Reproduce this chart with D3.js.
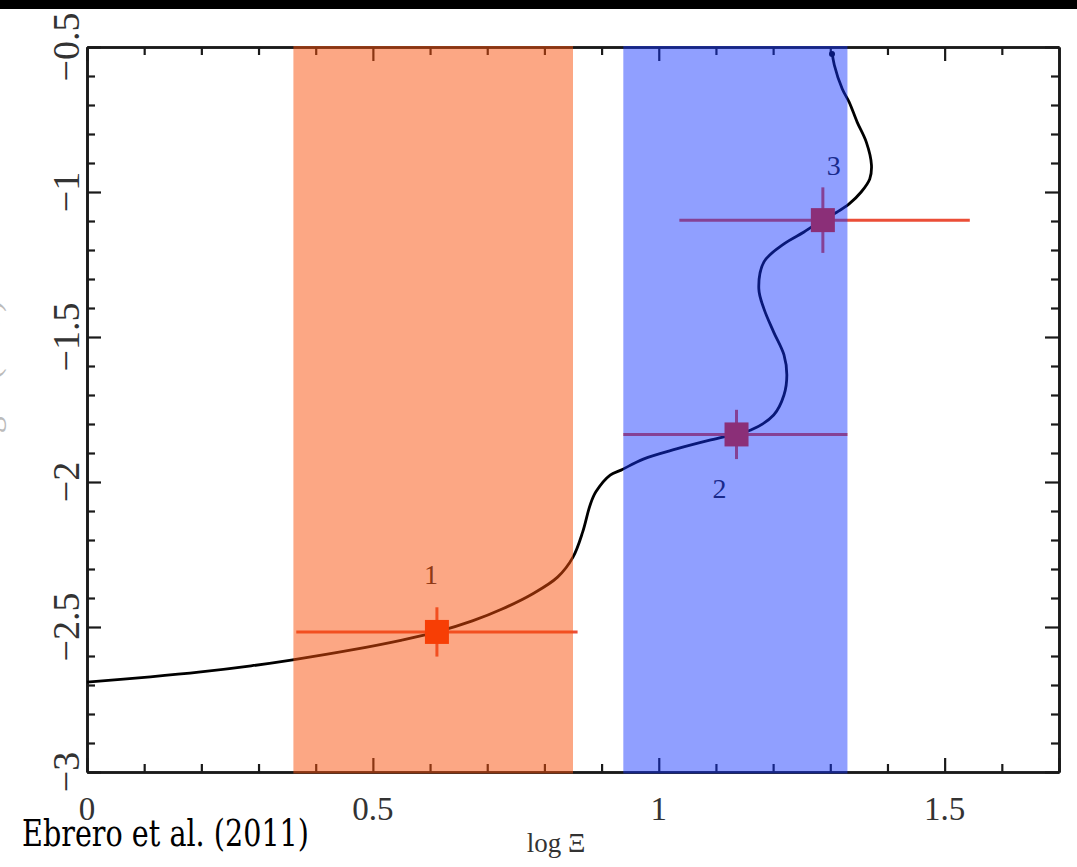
<!DOCTYPE html>
<html><head><meta charset="utf-8">
<script src="https://cdn.jsdelivr.net/npm/d3@7"></script>
<style>html,body{margin:0;padding:0;background:#fff;}svg{display:block;}</style>
</head><body>
<script>
// ---- data ----
const curveX = [0.000,0.111,0.199,0.287,0.357,0.463,0.551,0.612,0.674,0.726,0.779,0.823,0.850,0.867,0.880,0.890,0.915,0.934,0.973,1.031,1.091,1.136,1.161,1.201,1.219,1.224,1.219,1.201,1.184,1.175,1.184,1.219,1.254,1.286,1.312,1.333,1.354,1.369,1.372,1.363,1.347,1.333,1.321,1.307,1.303];
const curveY = [-2.690,-2.672,-2.655,-2.634,-2.614,-2.579,-2.545,-2.517,-2.479,-2.438,-2.386,-2.328,-2.259,-2.172,-2.079,-2.034,-1.976,-1.959,-1.921,-1.886,-1.855,-1.834,-1.821,-1.769,-1.700,-1.631,-1.562,-1.483,-1.403,-1.334,-1.241,-1.179,-1.138,-1.097,-1.069,-1.041,-1.000,-0.955,-0.907,-0.828,-0.759,-0.690,-0.645,-0.562,-0.517];
const pointLabels = ["1","2","3"];
const pointX  = [0.612, 1.136, 1.287];
const pointY  = [-2.517, -1.836, -1.097];
const xLow    = [0.366, 0.938, 1.036];
const xHigh   = [0.858, 1.330, 1.544];
const yErr    = [0.085, 0.085, 0.113];
const bandLow  = [0.361, 0.938];
const bandHigh = [0.850, 1.330];
const bandColors = ["rgb(250,80,10)", "rgb(20,50,255)"];
const xMajorTicks = [0, 0.5, 1, 1.5];
const xTickLabels = ["0", "0.5", "1", "1.5"];
const yMajorTicks = [-0.5, -1, -1.5, -2, -2.5, -3];
const yTickLabels = ["\u22120.5", "\u22121", "\u22121.5", "\u22122", "\u22122.5", "\u22123"];
const xTitle = "log \u039E";
const yTitle = "log T (keV)";
const credit = "Ebrero et al. (2011)";

// ---- layout ----
const W = 1077, H = 867;
const L = 87, R = 1059, T = 47, B = 772;
const svg = d3.select("body").append("svg").attr("width", W).attr("height", H);
svg.append("rect").attr("x",0).attr("y",0).attr("width",W).attr("height",9).attr("fill","#000");

const x = d3.scaleLinear().domain([0, 1.7]).range([L, R]);
const y = d3.scaleLinear().domain([-3, -0.5]).range([B, T]);

const axisColor = "#1a1a1a";
const g = svg.append("g");

const xMinor = d3.range(0, 17).map(i => i/10).filter(v => !xMajorTicks.some(m => Math.abs(m-v)<1e-9));
const yMinor = d3.range(-30, -4).map(i => i/10).filter(v => !yMajorTicks.some(m => Math.abs(m-v)<1e-9) && v > -3 && v < -0.5);

function styleAxis(sel){ sel.selectAll("path.domain").attr("stroke", axisColor).attr("stroke-width", 2.6);
  sel.selectAll(".tick line").attr("stroke", axisColor).attr("stroke-width", 2.2); sel.selectAll("text").remove(); }
const bottomMaj = g.append("g").attr("transform",`translate(0,${B})`).call(d3.axisBottom(x).tickValues(xMajorTicks.concat([1.7])).tickSize(-14).tickSizeOuter(0).tickFormat(""));
const bottomMin = g.append("g").attr("transform",`translate(0,${B})`).call(d3.axisBottom(x).tickValues(xMinor).tickSize(-8).tickSizeOuter(0).tickFormat(""));
const topMaj = g.append("g").attr("transform",`translate(0,${T})`).call(d3.axisTop(x).tickValues(xMajorTicks).tickSize(-14).tickSizeOuter(0).tickFormat(""));
const topMin = g.append("g").attr("transform",`translate(0,${T})`).call(d3.axisTop(x).tickValues(xMinor).tickSize(-8).tickSizeOuter(0).tickFormat(""));
const leftMaj = g.append("g").attr("transform",`translate(${L},0)`).call(d3.axisLeft(y).tickValues(yMajorTicks).tickSize(-14).tickSizeOuter(0).tickFormat(""));
const leftMin = g.append("g").attr("transform",`translate(${L},0)`).call(d3.axisLeft(y).tickValues(yMinor).tickSize(-8).tickSizeOuter(0).tickFormat(""));
const rightMaj = g.append("g").attr("transform",`translate(${R},0)`).call(d3.axisRight(y).tickValues(yMajorTicks).tickSize(-14).tickSizeOuter(0).tickFormat(""));
const rightMin = g.append("g").attr("transform",`translate(${R},0)`).call(d3.axisRight(y).tickValues(yMinor).tickSize(-8).tickSizeOuter(0).tickFormat(""));
[bottomMaj,bottomMin,topMaj,topMin,leftMaj,leftMin,rightMaj,rightMin].forEach(styleAxis);

// tick labels
g.selectAll("text.xl").data(xMajorTicks).enter().append("text")
  .attr("x", d => x(d)).attr("y", 820).attr("text-anchor","middle")
  .attr("font-family","'Liberation Serif', serif").attr("font-size", 33).attr("fill","#333")
  .text((d,i) => xTickLabels[i]);
g.selectAll("text.yl").data(yMajorTicks).enter().append("text")
  .attr("transform", d => `translate(79,${y(d)}) rotate(-90)`).attr("text-anchor","middle")
  .attr("font-family","'Liberation Serif', serif").attr("font-size", 38).attr("fill","#333")
  .text((d,i) => yTickLabels[i]);

// titles
svg.append("text").attr("x", 556).attr("y", 852).attr("text-anchor","middle")
  .attr("font-family","'Liberation Serif', serif").attr("font-size", 27).attr("fill","#333").text(xTitle);
svg.append("text").attr("transform", `translate(-1,380) rotate(-90)`).attr("text-anchor","middle")
  .attr("font-family","'Liberation Serif', serif").attr("font-size", 34).attr("fill","#bbb").text(yTitle);

// curve
const line = d3.line().x(d => x(d[0])).y(d => y(d[1])).curve(d3.curveCatmullRom.alpha(0.5));
const pts = curveX.map((v,i) => [v, curveY[i]]);
g.append("path").attr("d", line(pts)).attr("fill","none").attr("stroke","#000").attr("stroke-width",2.8);
g.append("circle").attr("cx", x(curveX[curveX.length-1])).attr("cy", y(curveY[curveY.length-1])+2).attr("r",3).attr("fill","#000");

// error bars and markers
const errColor = "rgb(235,78,55)";
pointX.forEach((px,i) => {
  g.append("line").attr("x1", x(xLow[i])).attr("x2", x(xHigh[i])).attr("y1", y(pointY[i])).attr("y2", y(pointY[i]))
    .attr("stroke", errColor).attr("stroke-width", 3);
  g.append("line").attr("x1", x(px)).attr("x2", x(px)).attr("y1", y(pointY[i]-yErr[i])).attr("y2", y(pointY[i]+yErr[i]))
    .attr("stroke", errColor).attr("stroke-width", 3);
  g.append("rect").attr("x", x(px)-12).attr("y", y(pointY[i])-12).attr("width",24).attr("height",24).attr("fill", "rgb(245,45,0)");
});
const labelPos = [[-6,-48],[-17,64],[11,-45]];
pointLabels.forEach((t,i) => {
  g.append("text").attr("x", x(pointX[i]) + labelPos[i][0]).attr("y", y(pointY[i]) + labelPos[i][1]).attr("text-anchor","middle")
    .attr("font-family","'Liberation Serif', serif").attr("font-size", 28).attr("fill","#222").text(t);
});

// translucent bands on top
bandLow.forEach((lo,i) => {
  svg.append("rect").attr("x", x(lo)).attr("y", T-1).attr("width", x(bandHigh[i]) - x(lo)).attr("height", B - T + 2.5)
    .attr("fill", bandColors[i]).attr("fill-opacity", i===0 ? 0.5 : 0.47);
});

// credit
svg.append("text").attr("x", 22).attr("y", 846).attr("textLength", 287).attr("lengthAdjust","spacingAndGlyphs")
  .attr("font-family","'DejaVu Serif', serif").attr("font-size", 38).attr("fill","#000").text(credit);
</script>
</body></html>
